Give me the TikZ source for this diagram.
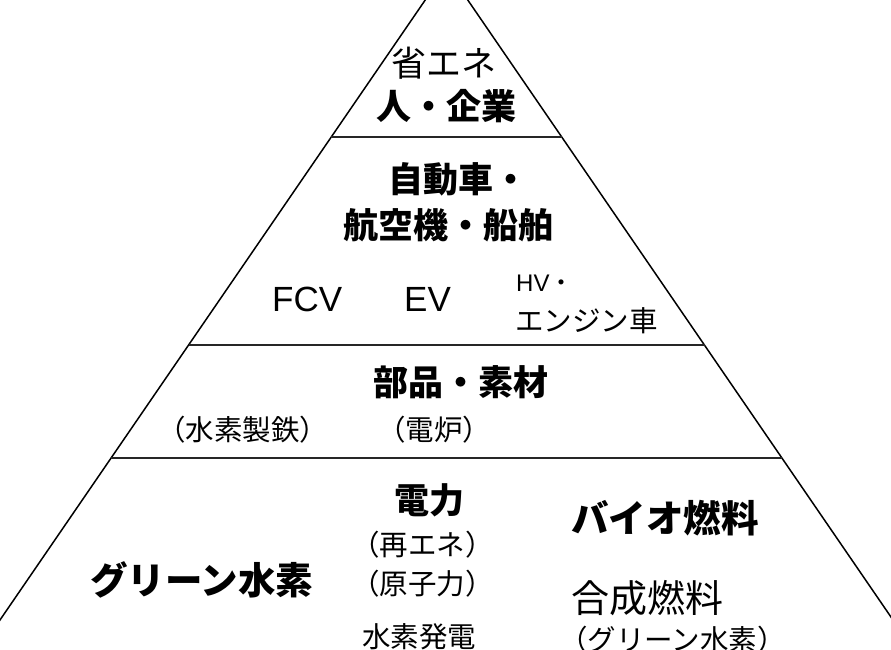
\documentclass[tikz,border=0pt]{standalone}
\usepackage{fontspec}
\setmainfont{Noto Sans CJK JP}
\newfontfamily\latin{Liberation Sans}
\begin{document}
\begin{tikzpicture}[x=1pt,y=-1pt,
  lbl/.style={inner sep=0pt,text=black},
  head/.style={lbl,font=\fontsize{35}{40}\selectfont\bfseries},
  bighead/.style={lbl,font=\fontsize{37.5}{42}\selectfont\bfseries},
  big/.style={lbl,font=\fontsize{35}{40}\selectfont},
  small/.style={lbl,font=\fontsize{28.5}{32}\selectfont},
  edge/.style={line width=1.5pt,black},
  tier/.style={line width=1.5pt,black!85}]
\useasboundingbox (0,0) rectangle (891,650);
\clip (0,0) rectangle (891,650);
\fill[white] (0,0) rectangle (891,650);
% pyramid outline
\coordinate (apex) at (446.5,-31);
\coordinate (bl) at (-20.6,650);
\coordinate (br) at (913.6,650);
\draw[edge] (bl) -- (apex) -- (br);
% tier separators
\coordinate (l1a) at (331.3,137); \coordinate (l1b) at (561.7,137);
\coordinate (l2a) at (188.5,345); \coordinate (l2b) at (704.5,345);
\coordinate (l3a) at (111,458);   \coordinate (l3b) at (782,458);
\draw[tier] (l1a) -- (l1b);
\draw[tier] (l2a) -- (l2b);
\draw[tier] (l3a) -- (l3b);
% tier 1
\node[big]  (t1a) at (444,63)  {省エネ};
\node[head] (t1b) at (446,106) {人・企業};
% tier 2
\node[head] (t2a) at (458,179) {自動車・};
\node[head] (t2b) at (448,225) {航空機・船舶};
\node[lbl,font=\latin\fontsize{35}{38}\selectfont,anchor=west] (fcv) at (272,299) {FCV};
\node[lbl,font=\latin\fontsize{35}{38}\selectfont,anchor=west] (ev) at (404,299) {EV};
\node[lbl,font=\latin\fontsize{24}{28}\selectfont,anchor=west] (hv) at (516,283) {HV\fontspec{Noto Sans CJK JP}・};
\node[small,anchor=west] (eng) at (515,321) {エンジン車};
% tier 3
\node[head] (t3a) at (461,382) {部品・素材};
\node[small,anchor=west] (steel) at (157,430) {（水素製鉄）};
\node[small,anchor=west] (furn) at (377,430) {（電炉）};
% tier 4
\node[head] (pw) at (429,500) {電力};
\node[small,anchor=west] (re) at (351,545) {（再エネ）};
\node[small,anchor=west] (nu) at (351,584) {（原子力）};
\node[small,anchor=west] (h2p) at (362,637) {水素発電};
\node[bighead,anchor=west] (gh) at (90,580) {グリーン水素};
\node[bighead,anchor=west] (bio) at (571,518) {バイオ燃料};
\node[lbl,font=\fontsize{38}{42}\selectfont,anchor=west] (syn) at (571,598) {合成燃料};
\node[small,anchor=west] (synh) at (559,640) {（グリーン水素）};
\end{tikzpicture}
\end{document}
